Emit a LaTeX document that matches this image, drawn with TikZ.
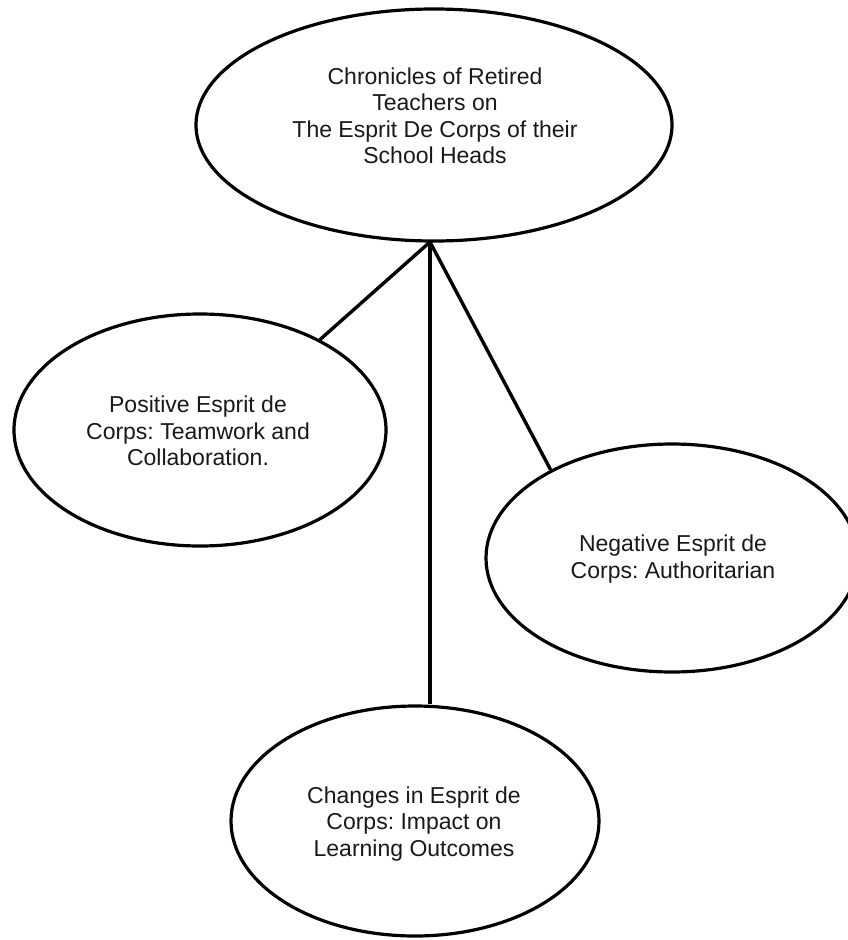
\documentclass[tikz,border=0pt]{standalone}
\usepackage{fontspec}
\setmainfont{Liberation Sans}
\usetikzlibrary{shapes.geometric}
\frenchspacing
\begin{document}
\begin{tikzpicture}[x=1pt,y=-1pt,
  oval/.style={ellipse, draw=black, line width=3.2pt, inner sep=0pt, fill=white},
  lbl/.style={align=center, font=\fontsize{23}{26.5}\selectfont, inner sep=0pt, text=black!90},
  link/.style={draw=black, line width=3.4pt}]
\useasboundingbox (0,0) rectangle (848,940);
\clip (0,0) rectangle (848,940);
\fill[white] (0,0) rectangle (848,940);
\node[oval, minimum width=476pt, minimum height=232pt] (top) at (434,125) {};
\node[oval, minimum width=372pt, minimum height=232pt] (left) at (200,430) {};
\node[oval, minimum width=372pt, minimum height=228pt] (right) at (672,558) {};
\node[oval, minimum width=368pt, minimum height=230pt] (bottom) at (415,821) {};
\node[lbl] (toptext) at (435,116) {Chronicles of Retired\\Teachers on\\The Esprit De Corps of their\\School Heads};
\node[lbl] (lefttext) at (198,431) {Positive Esprit de\\Corps: Teamwork and\\Collaboration.};
\node[lbl] (righttext) at (673,559) {Negative Esprit de\\Corps: Authoritarian};
\node[lbl] (bottomtext) at (414,824) {Changes in Esprit de\\Corps: Impact on\\Learning Outcomes};
\coordinate (apex) at (430,242);
\draw[link] (apex) -- (left.37);
\draw[link] (apex) -- (right.144);
\draw[link] (apex) -- (apex |- bottom.north);
\end{tikzpicture}
\end{document}
